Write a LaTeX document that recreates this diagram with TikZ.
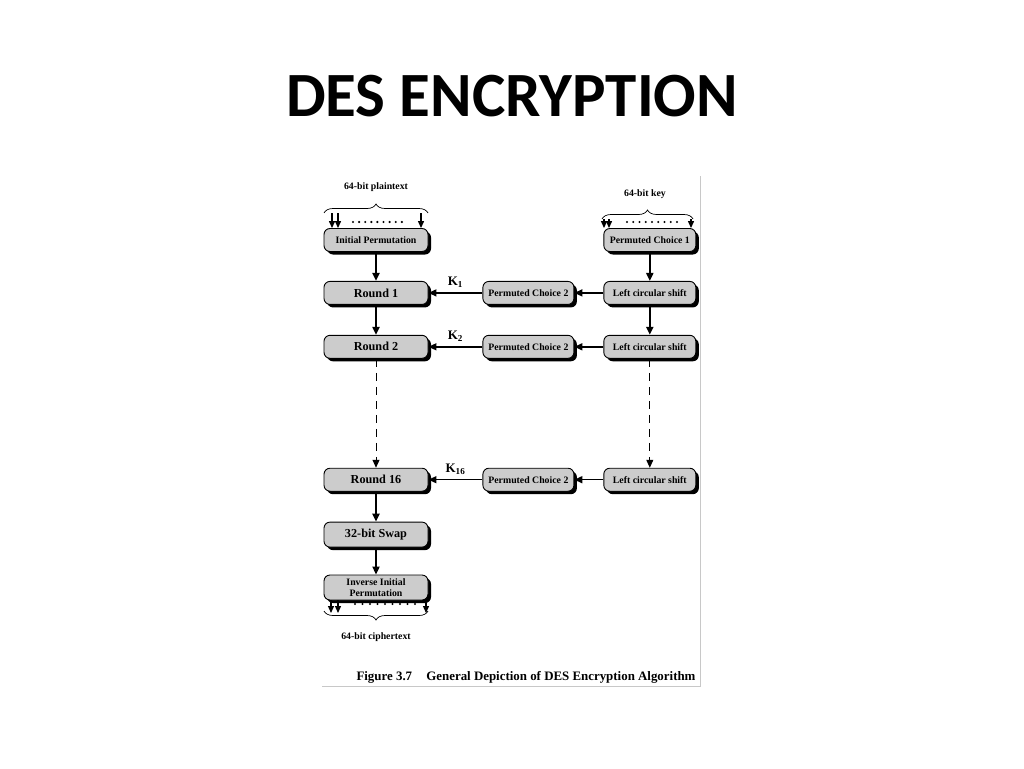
\documentclass[tikz,border=0pt]{standalone}
\usepackage{fontspec}
\setmainfont{Liberation Serif}
\newfontfamily\titlefont{Carlito}
\usetikzlibrary{arrows.meta,positioning,shadows,decorations.pathreplacing}
\definecolor{boxgray}{RGB}{204,204,204}
\definecolor{framegray}{RGB}{200,200,200}

\begin{document}
\begin{tikzpicture}[
  x=1pt, y=-1pt,
  blk/.style={
    draw=black,
    line width=0.9pt,
    fill=boxgray,
    rounded corners=6pt,
    minimum height=23pt,
    inner sep=0pt,
    align=center,
    font=\fontsize{9.8}{11}\selectfont\bfseries,
    drop shadow={shadow xshift=3pt,shadow yshift=-3pt,fill=black,opacity=1}
  },
  lft/.style={blk,minimum width=104pt},
  rgt/.style={blk,minimum width=92pt},
  rnd/.style={lft,font=\fontsize{12.2}{14}\selectfont\bfseries},
  flow/.style={line width=2pt,-{Triangle[length=8pt,width=7pt]}},
  keyarr/.style={line width=1.5pt,-{Triangle[length=8pt,width=7pt]}},
  skip/.style={line width=1pt,dash pattern=on 8pt off 6pt,-{Triangle[length=8pt,width=7pt]}},
  bitarr/.style={line width=1.3pt,-{Triangle[length=7pt,width=6pt]}},
  lbl/.style={font=\fontsize{9.8}{11}\selectfont\bfseries},
  brc/.style={decorate,decoration={brace,amplitude=9pt},line width=0.7pt}
]
\useasboundingbox (0,0) rectangle (1024,768);

% title
\node[font=\titlefont\fontsize{63}{70}\selectfont\bfseries] (title) at (512,96) {DES ENCRYPTION};

% frame of the figure
\draw[framegray,line width=1pt] (700,176) -- (700,686) -- (322,686);

% data path
\node[lft] (ip) at (376,240) {Initial Permutation};
\node[rnd,below=29pt of ip] (r1) {Round 1};
\node[rnd,below=30pt of r1] (r2) {Round 2};
\node[rnd,below=109pt of r2] (r16) {Round 16};
\node[rnd,minimum height=25pt,below=30pt of r16] (swap) {32-bit Swap};
\node[lft,minimum height=25pt,below=27pt of swap] (iip) {Inverse Initial\\Permutation};

% key schedule
\node[blk,minimum width=91pt,right=54pt of r1] (pc2a) {Permuted Choice 2};
\node[blk,minimum width=91pt,right=54pt of r2] (pc2b) {Permuted Choice 2};
\node[blk,minimum width=91pt,right=54pt of r16] (pc2c) {Permuted Choice 2};
\node[rgt,right=29pt of pc2a] (lcs1) {Left circular shift};
\node[rgt,right=29pt of pc2b] (lcs2) {Left circular shift};
\node[rgt,right=29pt of pc2c] (lcs16) {Left circular shift};
\node[rgt,above=29pt of lcs1] (pc1) {Permuted Choice 1};

\draw[flow] (ip) -- (r1);
\draw[flow] (r1) -- (r2);
\draw[skip] (r2) -- (r16);
\draw[flow] (r16) -- (swap);
\draw[flow] (swap) -- (iip);

\draw[flow] (pc1) -- (lcs1);
\draw[flow] (lcs1) -- (lcs2);
\draw[skip] (lcs2) -- (lcs16);

\draw[keyarr] (lcs1) -- (pc2a);
\draw[keyarr] (lcs2) -- (pc2b);
\draw[keyarr] (lcs16) -- (pc2c);
\draw[keyarr] (pc2a) -- node[above=1pt,font=\fontsize{13}{14}\selectfont\bfseries] (k1) {K\textsubscript{1}} (r1);
\draw[keyarr] (pc2b) -- node[above=1pt,font=\fontsize{13}{14}\selectfont\bfseries] (k2) {K\textsubscript{2}} (r2);
\draw[keyarr] (pc2c) -- node[above=1pt,font=\fontsize{13}{14}\selectfont\bfseries] (k16) {K\textsubscript{16}} (r16);

% plaintext input
\node[lbl] (ptxt) at (376,187) {64-bit plaintext};
\draw[brc] (324,213) -- (428,213);
\foreach \x/\n in {332/a,338/b,421/c} {
  \coordinate (pin\n) at (\x,213);
  \draw[bitarr] (pin\n) -- (pin\n |- ip.north);
}
\foreach \i in {0,...,8}
  \fill (353+\i*6.1,222) circle (1.2pt);

% key input
\node[lbl] (ktxt) at (645,194) {64-bit key};
\draw[brc] (602,219) -- (693,219);
\foreach \x/\n in {604/a,609/b,691/c} {
  \coordinate (kin\n) at (\x,219);
  \draw[bitarr] (kin\n) -- (kin\n |- pc1.north);
}
\foreach \i in {0,...,8}
  \fill (627+\i*6.25,222) circle (1.2pt);

% ciphertext output
\foreach \x/\n in {331/a,338/b,426/c} {
  \coordinate (cout\n) at (\x,613);
  \draw[bitarr] (cout\n |- iip.south) -- (cout\n);
}
\foreach \i in {0,...,8}
  \fill (355+\i*7.5,604) circle (1.2pt);
\draw[brc] (428,611) -- (324,611);
\node[lbl] (ctxt) at (376,637) {64-bit ciphertext};

% caption
\node[anchor=east,font=\fontsize{12.9}{15}\selectfont\bfseries] (cap) at (699,677)
  {Figure 3.7\hspace{1.1em}General Depiction of DES Encryption Algorithm};
\end{tikzpicture}
\end{document}
